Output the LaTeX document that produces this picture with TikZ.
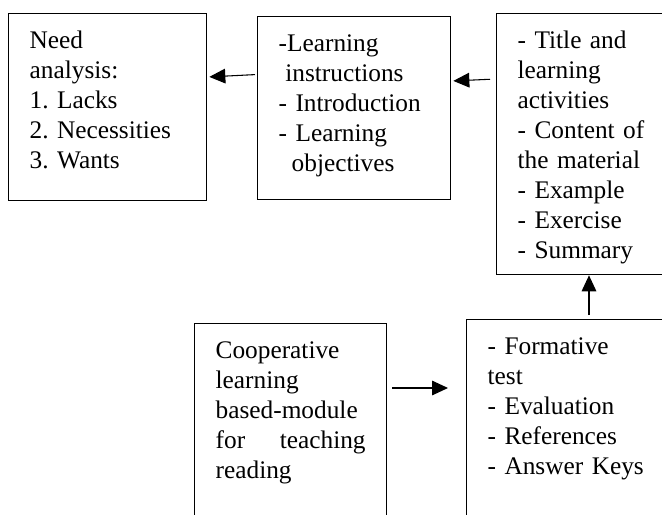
\documentclass[tikz,border=0pt]{standalone}
\usepackage{fontspec}
\setmainfont{Liberation Serif}
\usetikzlibrary{arrows.meta}

\tikzset{
	modbox/.style={rectangle, draw, line width=1pt, anchor=north west, align=left, inner xsep=15.75pt, inner ysep=13pt, text height=13.25pt, font=\fontsize{19pt}{22.5pt}\selectfont\frenchspacing},
	flow/.style={-{Triangle[length=12pt,width=11pt]}, line width=0.8pt}
}

\begin{document}
\begin{tikzpicture}[x=0.75pt,y=-0.75pt]
	\useasboundingbox (0,0) rectangle (662,515);
	\clip (0,0) rectangle (662,515);
	\node[modbox, text width=117pt, text depth=101pt](need) at (8,13){Need\\analysis:\\1. Lacks\\2. Necessities\\3. Wants};
	\node[modbox, text width=113.25pt, text depth=98pt](instr) at (257,16){-Learning\\\hspace*{5pt}instructions\\- Introduction\\- Learning\\\hspace*{9.75pt}objectives};
	\node[modbox, text width=96pt, text depth=156.5pt](title) at (496,13){- Title and\\learning\\activities\\- Content of\\the material\\- Example\\- Exercise\\- Summary};
	\node[modbox, text width=121.5pt, text depth=120pt](test) at (466,319){- Formative\\test\\- Evaluation\\- References\\- Answer Keys};
	\node[modbox, text width=112.5pt, text depth=120pt](coop) at (194,323){Cooperative\\learning\\based-module\\for\hfill teaching\\reading};
	\draw[flow, shorten <=1.5pt, shorten >=1.5pt] (instr.west |- 0,74.5) -- (need.east |- 0,77);
	\draw[flow, shorten <=4.5pt, shorten >=1.5pt] (title.west |- 0,79) -- (instr.east |- 0,81);
	\draw[flow, shorten <=3pt] (test.north -| 589,0) -- (title.south -| 589,0);
	\draw[flow, shorten <=3.75pt, shorten >=13.5pt] (coop.east |- 0,388) -- (test.west |- 0,388);
\end{tikzpicture}
\end{document}
